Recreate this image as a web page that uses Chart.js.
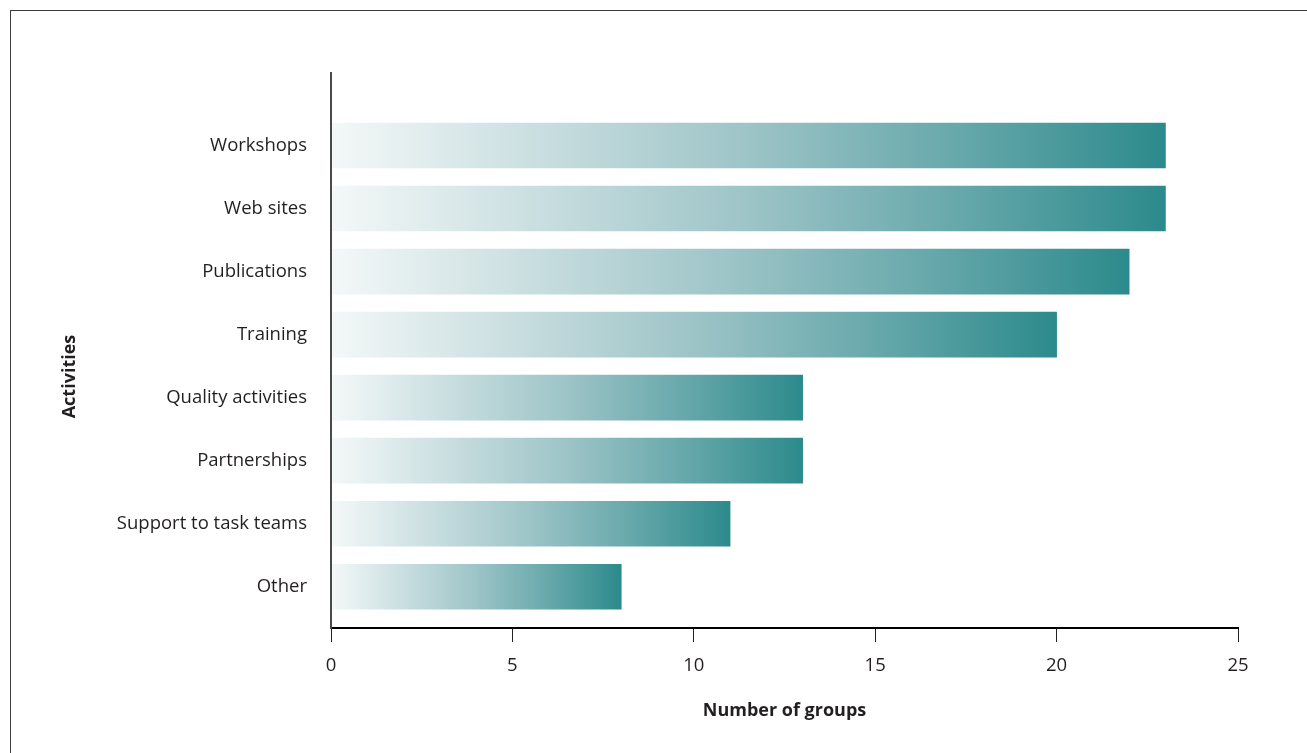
<!DOCTYPE html>
<html>
<head>
<meta charset="utf-8">
<script src="https://cdn.jsdelivr.net/npm/chart.js@4.4.1/dist/chart.umd.min.js"></script>
<style>
  html, body { margin: 0; padding: 0; background: #ffffff; }
  #wrap { position: relative; width: 1307px; height: 753px; overflow: hidden; }
  #wrap canvas { position: absolute; left: 0; top: 0; }
  #frame {
    position: absolute; left: 10px; top: 10px; width: 1400px; height: 900px;
    border-left: 1px solid #3c3c3c; border-top: 1px solid #3c3c3c;
    pointer-events: none;
  }
</style>
</head>
<body>
<div id="wrap">
  <canvas id="chart" width="1307" height="753"></canvas>
  <div id="frame"></div>
</div>
<script>
// Activities offered by the groups, top to bottom
const activities = [
  'Workshops',
  'Web sites',
  'Publications',
  'Training',
  'Quality activities',
  'Partnerships',
  'Support to task teams',
  'Other'
];
// Number of groups reporting each activity
const groupCounts = [23, 23, 22, 20, 13, 13, 11, 8];
// Value axis tick marks
const countTicks = [0, 5, 10, 15, 20, 25];

const TEXT = '#231f20';
const FONT = "'Open Sans', 'Noto Sans', sans-serif";
const TITLE_SIZE = 18;
const TITLE_PAD = 59;

Chart.defaults.font.family = FONT;
Chart.defaults.font.size = 18.5;
Chart.defaults.color = TEXT;

// Each bar fades from near white at zero to teal at its own end
function barFill(ctx) {
  const chart = ctx.chart;
  const xs = chart.scales && chart.scales.x;
  if (ctx.type !== 'data' || !xs || !ctx.raw) return '#2e8b8d';
  const x0 = xs.getPixelForValue(0);
  const x1 = xs.getPixelForValue(ctx.raw.x);
  if (!isFinite(x0) || !isFinite(x1) || x1 <= x0) return '#2e8b8d';
  const g = chart.ctx.createLinearGradient(x0, 0, x1, 0);
  g.addColorStop(0.00, '#f4f8f8');
  g.addColorStop(0.25, '#c9dee0');
  g.addColorStop(0.50, '#9dc4c7');
  g.addColorStop(0.75, '#67a8ab');
  g.addColorStop(1.00, '#2c8a8c');
  return g;
}

new Chart(document.getElementById('chart'), {
  type: 'bar',
  data: {
    datasets: [{
      data: groupCounts.map((v, i) => ({ x: v, y: i })),
      backgroundColor: barFill,
      borderWidth: 0,
      barThickness: 45
    }]
  },
  options: {
    indexAxis: 'y',
    responsive: false,
    animation: false,
    layout: { padding: { top: 0, right: 69, bottom: 0, left: 0 } },
    plugins: {
      legend: { display: false },
      tooltip: { enabled: false },
      title: {
        display: true,
        text: 'Activities',
        position: 'left',
        color: TEXT,
        font: { size: TITLE_SIZE, weight: 'bold' },
        padding: { top: TITLE_PAD, bottom: 0 }
      }
    },
    scales: {
      x: {
        type: 'linear',
        position: 'bottom',
        min: 0,
        max: 25,
        afterBuildTicks: s => { s.ticks = countTicks.map(v => ({ value: v })); },
        afterFit: s => { s.height = 125; },
        grid: {
          display: true,
          drawOnChartArea: false,
          drawTicks: true,
          tickLength: 14,
          color: '#231f20',
          lineWidth: 1
        },
        border: { display: true, color: '#000000', width: 2, z: 1 },
        ticks: { padding: 13, color: TEXT, font: { size: 18.5 }, maxRotation: 0 },
        title: {
          display: true,
          text: 'Number of groups',
          color: TEXT,
          font: { size: TITLE_SIZE, weight: 'bold' },
          padding: { top: 0, bottom: 31 }
        }
      },
      xTop: {
        type: 'linear',
        axis: 'x',
        position: 'top',
        display: true,
        afterFit: s => { s.height = 73; },
        grid: { display: false, drawTicks: false },
        border: { display: false },
        ticks: { display: false }
      },
      y: {
        type: 'linear',
        reverse: true,
        offset: false,
        min: -1.15,
        max: 7.654,
        afterBuildTicks: s => { s.ticks = activities.map((_, i) => ({ value: i })); },
        afterFit: s => { s.width = 331 - (TITLE_SIZE * 1.2 + TITLE_PAD); },
        grid: { display: false, drawTicks: false, offset: false },
        border: { display: true, color: '#4a4a4a', width: 2, z: 1 },
        ticks: {
          padding: 24,
          color: TEXT,
          font: { size: 18.5 },
          callback: v => activities[v] ?? ''
        }
      }
    }
  }
});
</script>
</body>
</html>
